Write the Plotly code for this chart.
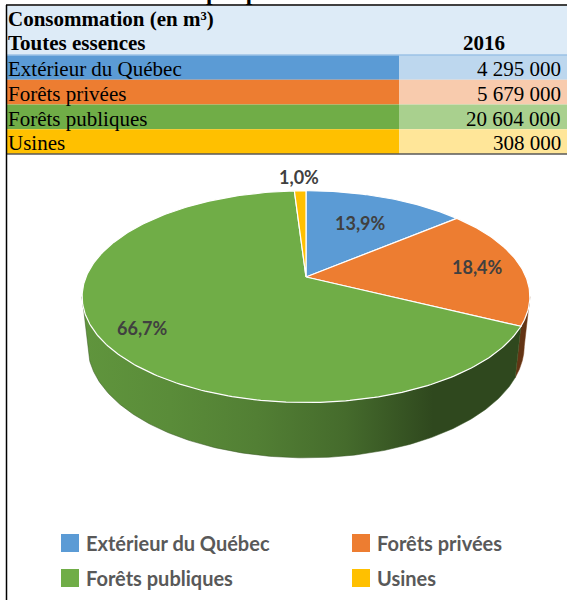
import numpy as np
import plotly.graph_objects as go

# ---------------- data ----------------
TITLE_FRAGMENT = "par provenance"
HEADER_1 = "Consommation (en m³)"
HEADER_2 = "Toutes essences"
YEAR = "2016"
categories = ["Extérieur du Québec", "Forêts privées", "Forêts publiques", "Usines"]
values_2016 = [4295000, 5679000, 20604000, 308000]

# ---------------- style ----------------
W, H = 567, 600
colors = ["#5b9bd5", "#ed7d31", "#70ad47", "#ffc000"]
light_colors = ["#bdd7ee", "#f8cbad", "#a9d08e", "#ffe699"]
HEADER_BG = "#ddebf7"
SERIF = "Liberation Serif"
SANS = "Lato"
LABEL_R = [0.65, 0.80, 0.82, 1.20]
TAB_FS = 21

# table geometry
TAB_L, TAB_R, TAB_SPLIT = 6, 567, 399
HEAD_TOP, HEAD_BOT = 6, 55
ROW_H = 24.75

# pie projection parameters
CX, CY, K = 306, 277, 220
PHI = np.radians(27.7)
DIST = 4.78
THICK = 0.2545


def proj(t, h=0.0, r=1.0):
    t = np.asarray(t, dtype=float)
    x = r * np.sin(t)
    z = r * np.cos(t)
    sp, cp = np.sin(PHI), np.cos(PHI)
    u = h * cp + z * sp
    depth = DIST + z * cp - h * sp
    s = DIST / depth
    return CX + K * x * s, CY - K * u * s


def hex_to_rgb(hx):
    hx = hx.lstrip("#")
    return tuple(int(hx[i:i + 2], 16) for i in (0, 2, 4))


def shade(hx, f):
    r, g, b = hex_to_rgb(hx)
    return "rgb(%d,%d,%d)" % (round(r * f), round(g * f), round(b * f))


def side_factor(u):
    us = [0.0, 0.3, 0.55, 0.8, 1.0]
    fs = [0.86, 0.78, 0.66, 0.40, 0.42]
    return float(np.interp(u, us, fs))


total = sum(values_2016)
fracs = [v / total for v in values_2016]
cum = np.concatenate([[0], np.cumsum(fracs)])

fig = go.Figure()

# silhouette angles of the top face
tt = np.linspace(0, np.pi, 2001)
xx, _ = proj(tt)
t_right = tt[np.argmax(xx)]
tt2 = np.linspace(np.pi, 2 * np.pi, 2001)
xx2, _ = proj(tt2)
t_left = tt2[np.argmin(xx2)]
x_left_all = xx2.min()
x_right_all = xx.max()

# ---- sides (front) ----
for i, c in enumerate(colors):
    t1, t2 = cum[i] * 2 * np.pi, cum[i + 1] * 2 * np.pi
    a, b = max(t1, t_right), min(t2, t_left)
    if a >= b:
        continue
    ts = np.linspace(a, b, 200)
    xt, yt = proj(ts, 0.0)
    xb, yb = proj(ts[::-1], -THICK)
    xs = np.concatenate([xt, xb, xt[:1]])
    ys = np.concatenate([yt, yb, yt[:1]])
    xmin, xmax = xs.min(), xs.max()
    stops = []
    for s in np.linspace(0, 1, 6):
        gx = xmin + s * (xmax - xmin)
        u = (gx - x_left_all) / (x_right_all - x_left_all)
        stops.append([float(s), shade(c, side_factor(u))])
    fig.add_trace(go.Scatter(
        x=xs, y=ys, mode="lines", fill="toself",
        line=dict(width=0.5, color=shade(c, 0.5)),
        fillgradient=dict(type="horizontal", colorscale=stops),
        hoverinfo="skip", showlegend=False))

# ---- top faces ----
for i, c in enumerate(colors):
    t1, t2 = cum[i] * 2 * np.pi, cum[i + 1] * 2 * np.pi
    n = max(8, int(400 * fracs[i]))
    ts = np.linspace(t1, t2, n)
    xa, ya = proj(ts, 0.0)
    xs = np.concatenate([[CX], xa, [CX]])
    ys = np.concatenate([[CY], ya, [CY]])
    fig.add_trace(go.Scatter(
        x=xs, y=ys, mode="lines", fill="toself", fillcolor=c,
        line=dict(width=1.2, color="white"),
        name=categories[i], hoverinfo="skip", showlegend=False))

# ---- percentage labels ----
for i in range(len(values_2016)):
    tm = (cum[i] + cum[i + 1]) * np.pi
    lx, ly = proj(tm, 0.0, LABEL_R[i])
    pct = ("%.1f" % (fracs[i] * 100)).replace(".", ",") + "%"
    fig.add_annotation(x=float(lx), y=float(ly), text="<b>%s</b>" % pct,
                       showarrow=False, xanchor="center", yanchor="middle",
                       font=dict(family=SANS, size=18, color="#404040"))

shapes = []
annots = []

# ---- table ----
shapes.append(dict(type="rect", x0=TAB_L, x1=TAB_R, y0=HEAD_TOP, y1=HEAD_BOT,
                   fillcolor=HEADER_BG, line=dict(width=0), layer="below"))
for i, cat in enumerate(categories):
    y0 = HEAD_BOT + i * ROW_H
    y1 = y0 + ROW_H
    shapes.append(dict(type="rect", x0=TAB_L, x1=TAB_SPLIT, y0=y0, y1=y1,
                       fillcolor=colors[i], line=dict(width=0), layer="below"))
    shapes.append(dict(type="rect", x0=TAB_SPLIT, x1=TAB_R, y0=y0, y1=y1,
                       fillcolor=light_colors[i], line=dict(width=0), layer="below"))
    base = y1 - 3.5
    annots.append(dict(x=7, y=base - 0.3375 * TAB_FS, text=cat, xanchor="left",
                       yanchor="middle", showarrow=False, borderpad=0,
                       font=dict(family=SERIF, size=TAB_FS, color="black")))
    annots.append(dict(x=562, y=base - 0.3375 * TAB_FS,
                       text=f"{values_2016[i]:,}".replace(",", " "),
                       xanchor="right", yanchor="middle", showarrow=False, borderpad=0,
                       font=dict(family=SERIF, size=TAB_FS, color="black")))

annots.append(dict(x=7, y=26 - 0.3375 * TAB_FS, text="<b>%s</b>" % HEADER_1,
                   xanchor="left", yanchor="middle", showarrow=False, borderpad=0,
                   font=dict(family=SERIF, size=TAB_FS, color="black")))
annots.append(dict(x=7, y=50 - 0.3375 * TAB_FS, text="<b>%s</b>" % HEADER_2,
                   xanchor="left", yanchor="middle", showarrow=False, borderpad=0,
                   font=dict(family=SERIF, size=TAB_FS, color="black")))
annots.append(dict(x=484, y=50 - 0.3375 * TAB_FS, text="<b>%s</b>" % YEAR,
                   xanchor="center", yanchor="middle", showarrow=False, borderpad=0,
                   font=dict(family=SERIF, size=TAB_FS, color="black")))
# cut-off title above the frame (paper coordinates so it is not hidden)
title_center_px = 0.0 - 0.3375 * 23
annots.append(dict(x=205 / W, xref="paper", y=1 - title_center_px / H, yref="paper",
                   text="<b>%s</b>" % TITLE_FRAGMENT,
                   xanchor="left", yanchor="middle", showarrow=False, borderpad=0,
                   font=dict(family=SERIF, size=23, color="black")))

# lines
shapes.append(dict(type="line", x0=TAB_L, x1=TAB_R, y0=HEAD_BOT, y1=HEAD_BOT,
                   line=dict(color="#9bc2e6", width=1.5)))
tab_bottom = HEAD_BOT + len(categories) * ROW_H
shapes.append(dict(type="line", x0=TAB_L, x1=TAB_R, y0=tab_bottom, y1=tab_bottom,
                   line=dict(color="#595959", width=1.5)))
shapes.append(dict(type="line", x0=6.5, x1=6.5, y0=5, y1=H,
                   line=dict(color="black", width=1.5)))
shapes.append(dict(type="line", x0=6, x1=W, y0=5, y1=5,
                   line=dict(color="black", width=1.5)))

# ---- legend ----
LEG_X = [61, 352]
LEG_Y = [543, 578]
SQ = 18
for i, cat in enumerate(categories):
    col, row = i % 2, i // 2
    x0, yc = LEG_X[col], LEG_Y[row]
    shapes.append(dict(type="rect", x0=x0, x1=x0 + SQ, y0=yc - SQ / 2, y1=yc + SQ / 2,
                       fillcolor=colors[i], line=dict(width=0)))
    annots.append(dict(x=x0 + SQ + 6, y=yc, text="<b>%s</b>" % cat,
                       xanchor="left", yanchor="middle", showarrow=False, borderpad=0,
                       font=dict(family=SANS, size=20, color="#595959")))

fig.update_layout(
    width=W, height=H,
    margin=dict(l=0, r=0, t=0, b=0),
    paper_bgcolor="white", plot_bgcolor="white",
    xaxis=dict(range=[0, W], visible=False, fixedrange=True),
    yaxis=dict(range=[H, 0], visible=False, fixedrange=True),
    shapes=shapes,
    showlegend=False,
)
for a in annots:
    fig.add_annotation(**a)

fig.write_html(
    "out.html",
    config={"displayModeBar": False},
    post_script="document.body.style.margin='0';document.body.style.padding='0';"
                "document.body.style.overflow='hidden';",
)
